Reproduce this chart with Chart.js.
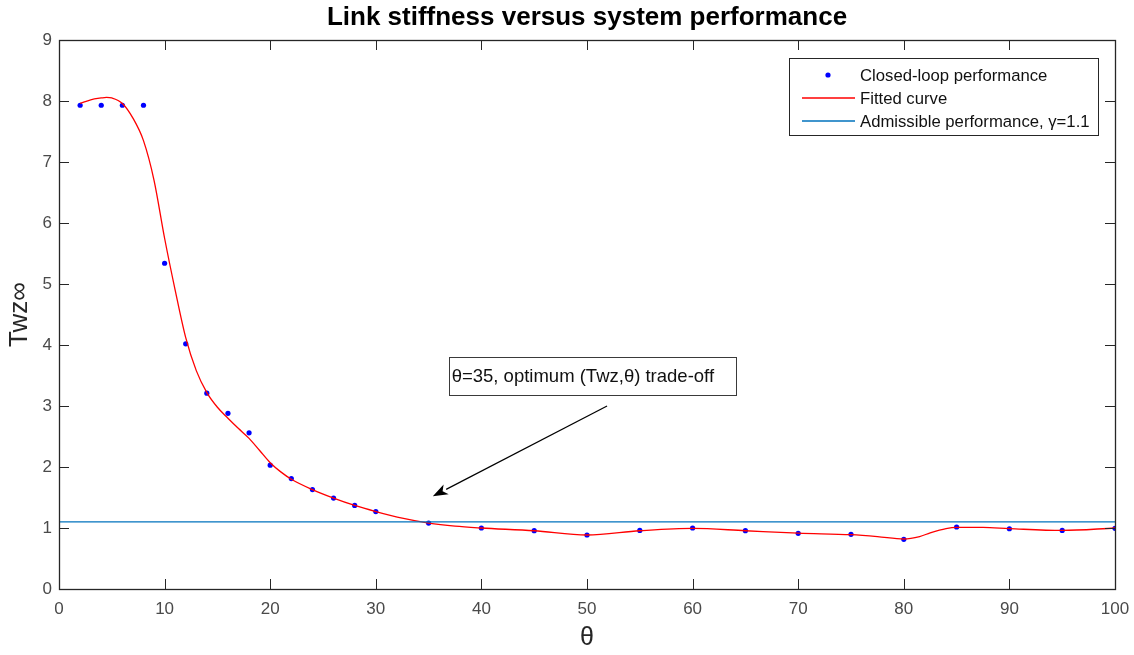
<!DOCTYPE html>
<html>
<head>
<meta charset="utf-8">
<script src="https://cdn.jsdelivr.net/npm/chart.js@4.4.1/dist/chart.umd.min.js"></script>
<style>
  html, body { margin: 0; padding: 0; background: #ffffff; }
  canvas { display: block; }
</style>
</head>
<body>
<canvas id="chart" width="1134" height="655"></canvas>
<script>
// Link stiffness angle θ where the closed loop was evaluated
const thetaSamples = [2, 4, 6, 8, 10, 12, 14, 16, 18, 20, 22, 24, 26, 28, 30, 35, 40, 45, 50, 55, 60, 65, 70, 75, 80, 85, 90, 95, 100];
// Closed-loop Twz∞ at each θ
const performance = [7.93, 7.93, 7.93, 7.93, 5.34, 4.02, 3.21, 2.88, 2.56, 2.03, 1.81, 1.63, 1.49, 1.37, 1.27, 1.08, 1.0, 0.956, 0.885, 0.96, 1.0, 0.956, 0.913, 0.897, 0.814, 1.016, 0.988, 0.96, 0.995];
// Smooth fitted curve through the samples
const fitTheta = [2, 3, 4, 4.5, 5, 6, 7, 8, 9, 10, 11, 12, 13, 14, 15, 16, 17, 18, 19, 20, 21, 22, 24, 26, 28, 30, 32.5, 35, 37.5, 40, 45, 50, 55, 60, 65, 70, 75, 77.5, 80, 81.5, 82.5, 84, 85, 87.5, 90, 95, 100];
const fitValues = [7.96, 8.02, 8.05, 8.06, 8.05, 7.96, 7.72, 7.35, 6.7, 5.75, 4.9, 4.12, 3.58, 3.22, 2.98, 2.8, 2.63, 2.47, 2.27, 2.07, 1.92, 1.8, 1.63, 1.49, 1.37, 1.27, 1.16, 1.08, 1.03, 1.0, 0.955, 0.885, 0.955, 0.995, 0.955, 0.915, 0.89, 0.86, 0.82, 0.86, 0.92, 0.99, 1.01, 1.01, 0.99, 0.96, 1.0];
// Admissible performance level γ and the θ span it covers
const gammaLevel = 1.1;
const gammaSpan = [0, 100];
// Axis tick labels
const xTickValues = [0, 10, 20, 30, 40, 50, 60, 70, 80, 90, 100];
const yTickValues = [0, 1, 2, 3, 4, 5, 6, 7, 8, 9];

const FONT = '"Liberation Sans", Arial, Helvetica, sans-serif';
const AXIS_COLOR = '#262626';
const TICK_LABEL_COLOR = '#4a4a4a';

const toPoints = (xs, ys) => xs.map((x, i) => ({ x: x, y: ys[i] }));

// Axes box with inward tick marks on all four sides
const axesBox = {
  id: 'axesBox',
  afterDatasetsDraw(chart) {
    const { ctx, chartArea: a, scales: { x, y } } = chart;
    const len = 10;
    ctx.save();
    ctx.strokeStyle = AXIS_COLOR;
    ctx.lineWidth = 1;
    ctx.beginPath();
    xTickValues.forEach(v => {
      const px = Math.round(x.getPixelForValue(v)) + 0.5;
      ctx.moveTo(px, a.bottom); ctx.lineTo(px, a.bottom - len);
      ctx.moveTo(px, a.top); ctx.lineTo(px, a.top + len);
    });
    yTickValues.forEach(v => {
      const py = Math.round(y.getPixelForValue(v)) + 0.5;
      ctx.moveTo(a.left, py); ctx.lineTo(a.left + len, py);
      ctx.moveTo(a.right, py); ctx.lineTo(a.right - len, py);
    });
    ctx.stroke();
    ctx.lineWidth = 1.3;
    ctx.strokeRect(Math.round(a.left) + 0.5, Math.round(a.top) + 0.5,
                   Math.round(a.right - a.left), Math.round(a.bottom - a.top));
    ctx.restore();
  }
};

// Figure title above the axes
const figureTitle = {
  id: 'figureTitle',
  afterDraw(chart) {
    const { ctx, chartArea: a } = chart;
    ctx.save();
    ctx.fillStyle = '#000000';
    ctx.font = 'bold 26px ' + FONT;
    ctx.textAlign = 'center';
    ctx.textBaseline = 'middle';
    ctx.fillText('Link stiffness versus system performance', (a.left + a.right) / 2, 18);
    ctx.restore();
  }
};

// Text box with an arrow pointing at the chosen trade-off
const tradeOffNote = {
  id: 'tradeOffNote',
  afterDraw(chart) {
    const { ctx, scales: { x, y } } = chart;
    const bx1 = x.getPixelForValue(36.9), bx2 = x.getPixelForValue(64.1);
    const by1 = y.getPixelForValue(3.80), by2 = y.getPixelForValue(3.18);
    ctx.save();
    ctx.fillStyle = '#ffffff';
    ctx.fillRect(bx1, by1, bx2 - bx1, by2 - by1);
    ctx.strokeStyle = '#3a3a3a';
    ctx.lineWidth = 1;
    ctx.strokeRect(Math.round(bx1) + 0.5, Math.round(by1) + 0.5, Math.round(bx2 - bx1), Math.round(by2 - by1));
    ctx.fillStyle = '#111111';
    ctx.font = '18.5px ' + FONT;
    ctx.textAlign = 'left';
    ctx.textBaseline = 'middle';
    ctx.fillText('θ=35, optimum (Twz,θ) trade-off', bx1 + 3, (by1 + by2) / 2 + 1);

    const tx = x.getPixelForValue(51.9), ty = y.getPixelForValue(3.0);
    const hx = x.getPixelForValue(35.4), hy = y.getPixelForValue(1.52);
    const ang = Math.atan2(hy - ty, hx - tx);
    const headLen = 15, headHalf = 5.5;
    const bx = hx - headLen * Math.cos(ang), byy = hy - headLen * Math.sin(ang);
    ctx.strokeStyle = '#000000';
    ctx.lineWidth = 1.2;
    ctx.beginPath();
    ctx.moveTo(tx, ty);
    ctx.lineTo(bx, byy);
    ctx.stroke();
    ctx.fillStyle = '#000000';
    ctx.beginPath();
    ctx.moveTo(hx, hy);
    ctx.lineTo(bx + headHalf * Math.sin(ang), byy - headHalf * Math.cos(ang));
    ctx.lineTo(hx - (headLen - 4) * Math.cos(ang), hy - (headLen - 4) * Math.sin(ang));
    ctx.lineTo(bx - headHalf * Math.sin(ang), byy + headHalf * Math.cos(ang));
    ctx.closePath();
    ctx.fill();
    ctx.restore();
  }
};

// Legend drawn inside the upper-right corner of the axes
const insetLegend = {
  id: 'insetLegend',
  afterDraw(chart) {
    const { ctx, chartArea: a } = chart;
    const w = 309, h = 77;
    const left = a.right - 17 - w, top = a.top + 18;
    ctx.save();
    ctx.fillStyle = '#ffffff';
    ctx.fillRect(left, top, w, h);
    ctx.strokeStyle = AXIS_COLOR;
    ctx.lineWidth = 1;
    ctx.strokeRect(Math.round(left) + 0.5, Math.round(top) + 0.5, w, h);
    ctx.font = '16.7px ' + FONT;
    ctx.textBaseline = 'middle';
    ctx.textAlign = 'left';
    chart.data.datasets.forEach((ds, i) => {
      const cy = top + 17 + i * 23;
      if (ds.showLine === false) {
        ctx.fillStyle = ds.pointBackgroundColor;
        ctx.beginPath();
        ctx.arc(left + 39, cy, ds.pointRadius, 0, Math.PI * 2);
        ctx.fill();
      } else {
        ctx.strokeStyle = ds.borderColor;
        ctx.lineWidth = ds.borderWidth;
        ctx.beginPath();
        ctx.moveTo(left + 13, cy);
        ctx.lineTo(left + 66, cy);
        ctx.stroke();
      }
      ctx.fillStyle = '#111111';
      ctx.fillText(ds.label, left + 71, cy + 1);
    });
    ctx.restore();
  }
};

new Chart(document.getElementById('chart'), {
  type: 'scatter',
  data: {
    datasets: [
      {
        label: 'Closed-loop performance',
        data: toPoints(thetaSamples, performance),
        showLine: false,
        pointRadius: 2.6,
        pointHoverRadius: 2.6,
        pointBackgroundColor: '#0000ff',
        pointBorderWidth: 0,
        borderColor: '#0000ff',
        order: 3
      },
      {
        label: 'Fitted curve',
        data: toPoints(fitTheta, fitValues),
        showLine: true,
        pointRadius: 0,
        borderColor: '#ff0000',
        borderWidth: 1.3,
        cubicInterpolationMode: 'monotone',
        order: 2
      },
      {
        label: 'Admissible performance, γ=1.1',
        data: gammaSpan.map(x => ({ x: x, y: gammaLevel })),
        showLine: true,
        pointRadius: 0,
        borderColor: '#0072bd',
        borderWidth: 1.3,
        order: 1
      }
    ]
  },
  options: {
    responsive: false,
    animation: false,
    events: [],
    layout: { padding: { left: 0, top: 40, right: 19, bottom: 0 } },
    plugins: {
      legend: { display: false },
      title: { display: false },
      tooltip: { enabled: false }
    },
    scales: {
      x: {
        type: 'linear',
        min: 0,
        max: 100,
        afterBuildTicks(scale) { scale.ticks = xTickValues.map(v => ({ value: v })); },
        afterFit(scale) {
          scale.height = 66;
          scale.paddingLeft = 0;
          scale.paddingRight = 0;
        },
        grid: { display: false, drawTicks: false },
        border: { display: false },
        ticks: {
          padding: 10,
          color: TICK_LABEL_COLOR,
          font: { family: FONT, size: 17 },
          maxRotation: 0
        },
        title: {
          display: true,
          text: 'θ',
          color: '#262626',
          font: { family: FONT, size: 25 },
          padding: { top: 0, bottom: 2 }
        }
      },
      y: {
        type: 'linear',
        min: 0,
        max: 9,
        afterBuildTicks(scale) { scale.ticks = yTickValues.map(v => ({ value: v })); },
        afterFit(scale) {
          scale.width = 59;
          scale.paddingTop = 0;
          scale.paddingBottom = 0;
        },
        grid: { display: false, drawTicks: false },
        border: { display: false },
        ticks: {
          padding: 7,
          color: TICK_LABEL_COLOR,
          font: { family: FONT, size: 17 }
        },
        title: {
          display: true,
          text: 'Twz∞',
          color: '#262626',
          font: { family: FONT, size: 26 },
          padding: { top: 4, bottom: 0 }
        }
      }
    }
  },
  plugins: [axesBox, figureTitle, tradeOffNote, insetLegend]
});
</script>
</body>
</html>
